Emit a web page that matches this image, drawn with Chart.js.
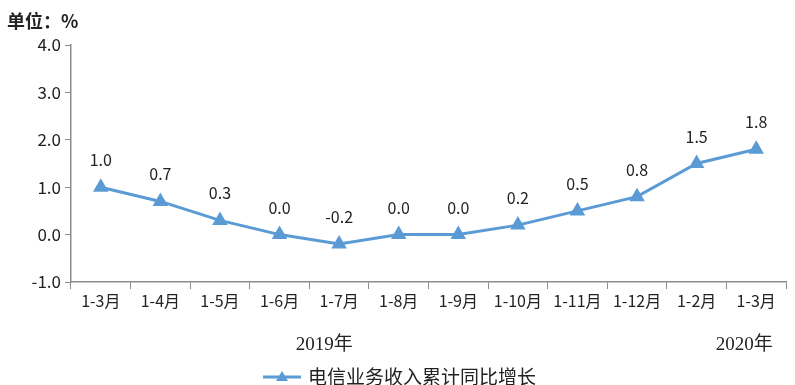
<!DOCTYPE html>
<html>
<head>
<meta charset="utf-8">
<script src="https://cdn.jsdelivr.net/npm/chart.js@4"></script>
<style>
  html, body { margin: 0; padding: 0; background: #fff; }
  #wrap { width: 795px; height: 385px; position: relative; }
</style>
</head>
<body>
<div id="wrap"><canvas id="c" width="795" height="385"></canvas></div>
<script>
// chart data
const months = ['1-3月', '1-4月', '1-5月', '1-6月', '1-7月', '1-8月', '1-9月', '1-10月', '1-11月', '1-12月', '1-2月', '1-3月'];
const growth = [1.0, 0.7, 0.3, 0.0, -0.2, 0.0, 0.0, 0.2, 0.5, 0.8, 1.5, 1.8];
const yearLabels = [
  { text: '2019年', at: 3.75 },
  { text: '2020年', at: 10.8 }
];
const seriesName = '电信业务收入累计同比增长';
const unitText = '单位：%';

const lineColor = '#5b9bd5';
const textColor = '#222';
const axisColor = '#8c8c8c';
const sansFont = '"Noto Sans CJK SC", "Noto Sans", sans-serif';

// labels above points, years, legend and unit text
const extrasPlugin = {
  id: 'extras',
  afterDatasetsDraw(chart) {
    const ctx = chart.ctx;
    const meta = chart.getDatasetMeta(0);
    ctx.save();
    ctx.fillStyle = textColor;
    ctx.font = '16px ' + sansFont;
    ctx.textAlign = 'center';
    ctx.textBaseline = 'middle';
    meta.data.forEach((pt, i) => {
      ctx.fillText(growth[i].toFixed(1), pt.x, pt.y - 27);
    });
    ctx.restore();
  },
  afterDraw(chart) {
    const ctx = chart.ctx;
    const x = chart.scales.x;
    ctx.save();
    ctx.fillStyle = textColor;

    // unit
    ctx.font = 'bold 18px ' + sansFont;
    ctx.textAlign = 'left';
    ctx.textBaseline = 'middle';
    ctx.fillText(unitText, 7, 21);

    // years
    ctx.font = '19px "Liberation Serif", "Noto Sans CJK SC", serif';
    ctx.textAlign = 'center';
    yearLabels.forEach(y => {
      ctx.fillText(y.text, x.getPixelForValue(y.at), 345);
    });

    // legend
    const lx = 263, ly = 377;
    ctx.strokeStyle = lineColor;
    ctx.lineWidth = 3;
    ctx.beginPath();
    ctx.moveTo(lx, ly);
    ctx.lineTo(lx + 38, ly);
    ctx.stroke();
    ctx.fillStyle = lineColor;
    ctx.beginPath();
    ctx.moveTo(lx + 19, ly - 6);
    ctx.lineTo(lx + 25, ly + 4);
    ctx.lineTo(lx + 13, ly + 4);
    ctx.closePath();
    ctx.fill();
    ctx.fillStyle = textColor;
    ctx.font = '19px ' + sansFont;
    ctx.textAlign = 'left';
    ctx.fillText(seriesName, lx + 45, ly);
    ctx.restore();
  }
};

new Chart(document.getElementById('c'), {
  type: 'line',
  data: {
    labels: months,
    datasets: [{
      label: seriesName,
      data: growth,
      borderColor: lineColor,
      backgroundColor: lineColor,
      borderWidth: 3,
      pointStyle: 'triangle',
      pointRadius: 6,
      pointHoverRadius: 6,
      tension: 0
    }]
  },
  options: {
    responsive: false,
    animation: false,
    layout: { padding: { left: 0, right: 5, top: 45, bottom: 60 } },
    plugins: {
      legend: { display: false },
      tooltip: { enabled: false }
    },
    scales: {
      x: {
        offset: true,
        grid: { offset: true, drawOnChartArea: false, color: axisColor, tickLength: 7 },
        border: { color: axisColor, width: 1.5 },
        ticks: { color: textColor, font: { family: sansFont, size: 16 }, padding: 2, maxRotation: 0, autoSkip: false },
        afterFit(s) { s.height = 43; }
      },
      y: {
        min: -1,
        max: 4,
        grid: { drawOnChartArea: false, color: axisColor, tickLength: 6 },
        border: { color: axisColor, width: 1.5 },
        ticks: {
          stepSize: 1,
          color: textColor,
          font: { family: sansFont, size: 17 },
          padding: 4,
          callback: v => v.toFixed(1)
        },
        afterFit(s) { s.width = 71; }
      }
    }
  },
  plugins: [extrasPlugin]
});
</script>
</body>
</html>
